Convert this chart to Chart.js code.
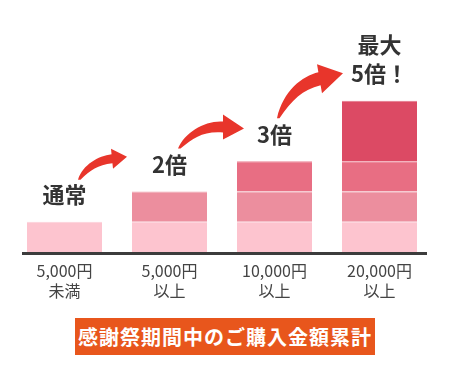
<!DOCTYPE html>
<html>
<head>
<meta charset="utf-8">
<script src="https://cdn.jsdelivr.net/npm/chart.js@4/dist/chart.umd.min.js"></script>
<style>
  html, body { margin: 0; padding: 0; background: #ffffff; }
  #wrap { position: relative; width: 450px; height: 375px; overflow: hidden; }
  #wrap canvas { position: absolute; left: 0; top: 0; }
  #banner {
    position: absolute; left: 75px; top: 318px; width: 300px; height: 37px;
    background: #e8561c; color: #ffffff;
    font-family: "Noto Sans CJK JP", sans-serif; font-weight: 700; font-size: 20px;
    line-height: 37px; text-align: center; letter-spacing: 1px;
  }
</style>
</head>
<body>
<div id="wrap">
  <canvas id="c" width="450" height="375"></canvas>
  <div id="banner">感謝祭期間中のご購入金額累計</div>
</div>
<script>
// ---- data ----
const categories = [["5,000円", "未満"], ["5,000円", "以上"], ["10,000円", "以上"], ["20,000円", "以上"]];
const tier1 = [1, 1, 1, 1];
const tier2 = [null, 1, 1, 1];
const tier3 = [null, null, 1, 1];
const tier4 = [null, null, null, 2];
const topLabels = [["通常"], ["2倍"], ["3倍"], ["最大", "5倍！"]];

const tierColors = ["#fdc4cf", "#ec8e9e", "#e86e83", "#dc4a64"];
const tierTopLines = ["#fdd0d9", "#efa0ad", "#ec8495", "#e47589"];

// arrow decorations: offsets relative to bar i center / top (tail, head top, tip, head bottom)
const arrowShapes = [
  { from: 0, tail: [13.5, -42], a: [46.5, -73], t: [62.5, -65], b: [48.5, -53] },
  { from: 1, tail: [8.5, -43], a: [53.5, -77], t: [74.5, -63], b: [53.5, -52] },
  { from: 2, tail: [2.5, -43], a: [42.5, -97], t: [68.5, -88], b: [47.5, -68] }
];

const series = [tier1, tier2, tier3, tier4];

const decorPlugin = {
  id: 'decor',
  afterDatasetsDraw(chart) {
    const ctx = chart.ctx;
    const xs = chart.scales.x, ys = chart.scales.y;
    const area = chart.chartArea;
    // baseline
    const y0 = ys.getPixelForValue(0);
    ctx.save();
    ctx.fillStyle = '#3c3c3c';
    ctx.fillRect(area.left + 10, y0, area.right - area.left - 15, 3);

    const totals = categories.map((_, i) => series.reduce((s, d) => s + (d[i] || 0), 0));

    // top labels
    ctx.fillStyle = '#333333';
    ctx.font = 'bold 22px "Noto Sans CJK JP", sans-serif';
    ctx.textAlign = 'center';
    ctx.textBaseline = 'middle';
    topLabels.forEach((lines, i) => {
      const cx = xs.getPixelForValue(i);
      const top = ys.getPixelForValue(totals[i]);
      const n = lines.length;
      lines.forEach((ln, k) => {
        ctx.fillText(ln, cx, top - 27 - (n - 1 - k) * 29);
      });
    });

    // arrows
    ctx.fillStyle = '#e8352b';
    arrowShapes.forEach(s => {
      const cx = xs.getPixelForValue(s.from);
      const top = ys.getPixelForValue(totals[s.from]);
      const P = p => [cx + p[0], top + p[1]];
      const tail = P(s.tail), A = P(s.a), T = P(s.t), B = P(s.b);
      const lerp = (u, v, f) => [u[0] + (v[0] - u[0]) * f, u[1] + (v[1] - u[1]) * f];
      const J1 = lerp(A, B, 0.28), J2 = lerp(A, B, 0.72);
      const M = lerp(A, B, 0.5);
      let d = [T[0] - M[0], T[1] - M[1]];
      const L = Math.hypot(d[0], d[1]); d = [d[0] / L, d[1] / L];
      const dx = J1[0] - tail[0], dy = J1[1] - tail[1];
      const tailB = [tail[0] + 2.5, tail[1]];
      ctx.beginPath();
      ctx.moveTo(tail[0], tail[1]);
      ctx.bezierCurveTo(tail[0] + 0.15 * dx, tail[1] + 0.6 * dy,
                        J1[0] - d[0] * 0.4 * dx, J1[1] - d[1] * 0.4 * dx,
                        J1[0], J1[1]);
      ctx.lineTo(A[0], A[1]);
      ctx.lineTo(T[0], T[1]);
      ctx.lineTo(B[0], B[1]);
      ctx.lineTo(J2[0], J2[1]);
      ctx.bezierCurveTo(J2[0] - d[0] * 0.45 * dx, J2[1] - d[1] * 0.45 * dx,
                        tailB[0] + 0.3 * dx, tailB[1] + 0.4 * dy,
                        tailB[0], tailB[1]);
      ctx.closePath();
      ctx.fill();
    });
    ctx.restore();
  }
};

new Chart(document.getElementById('c'), {
  type: 'bar',
  data: {
    labels: categories,
    datasets: series.map((d, k) => ({
      data: d,
      backgroundColor: tierColors[k],
      borderColor: tierTopLines[k],
      borderWidth: { top: 1, left: 0, right: 0, bottom: 0 },
      borderSkipped: false,
      barPercentage: 1,
      categoryPercentage: 75 / 105
    }))
  },
  options: {
    responsive: false,
    animation: false,
    events: [],
    layout: { padding: { left: 12, right: 18, top: 10, bottom: 65 } },
    plugins: { legend: { display: false }, tooltip: { enabled: false } },
    scales: {
      x: {
        stacked: true,
        grid: { display: false, drawTicks: false },
        border: { display: false },
        ticks: {
          color: '#444444',
          padding: 9,
          font: { family: '"Noto Sans CJK JP", sans-serif', size: 16, lineHeight: 1.25 },
          maxRotation: 0, autoSkip: false
        }
      },
      y: {
        stacked: true,
        display: false,
        min: 0,
        max: 8
      }
    }
  },
  plugins: [decorPlugin]
});
</script>
</body>
</html>
